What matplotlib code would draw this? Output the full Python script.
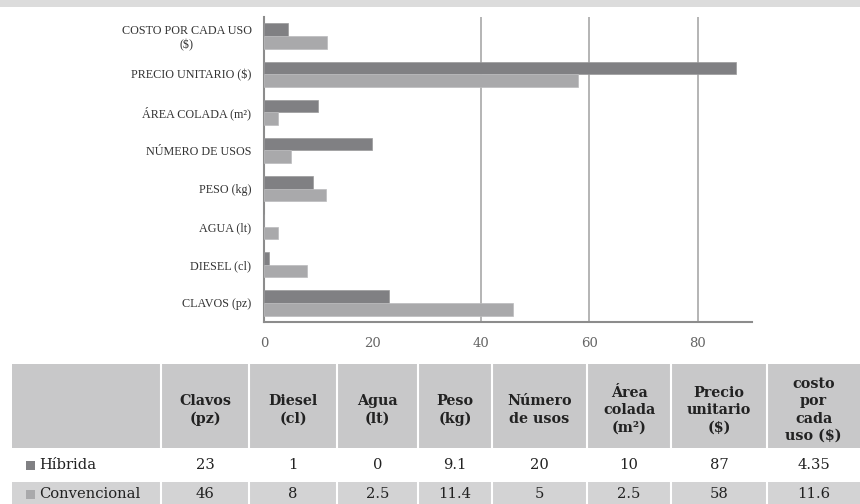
import matplotlib
matplotlib.use("Agg")
import matplotlib.pyplot as plt
from matplotlib.patches import Rectangle

# data
categorias = ["CLAVOS (pz)", "DIESEL (cl)", "AGUA (lt)", "PESO (kg)",
              "NÚMERO DE USOS", "ÁREA COLADA (m²)", "PRECIO UNITARIO ($)",
              "COSTO POR CADA USO\n($)"]
hibrida = [23, 1, 0, 9.1, 20, 10, 87, 4.35]
convencional = [46, 8, 2.5, 11.4, 5, 2.5, 58, 11.6]

encabezados = ["Clavos\n(pz)", "Diesel\n(cl)", "Agua\n(lt)", "Peso\n(kg)",
               "Número\nde usos", "Área\ncolada\n(m²)", "Precio\nunitario\n($)",
               "costo\npor\ncada\nuso ($)"]
fila_hib = ["23", "1", "0", "9.1", "20", "10", "87", "4.35"]
fila_conv = ["46", "8", "2.5", "11.4", "5", "2.5", "58", "11.6"]

c_hib = "#808083"
c_conv = "#a9a9ab"

W, H = 860, 504
fig = plt.figure(figsize=(W / 100, H / 100), dpi=100)

# top grey band
band = fig.add_axes([0, 1 - 7 / H, 1, 7 / H])
band.set_facecolor("#dcdcdc")
band.set_xticks([]); band.set_yticks([])
for s in band.spines.values():
    s.set_visible(False)

# bar chart
ax = fig.add_axes([264 / W, 1 - 322 / H, (752 - 264) / W, (322 - 17) / H])
y = list(range(len(categorias)))
h = 0.33
ax.barh([v + h / 2 for v in y], hibrida, height=h, color=c_hib,
        edgecolor="#9a9a9c", linewidth=0.5, zorder=3)
ax.barh([v - h / 2 for v in y], convencional, height=h, color=c_conv,
        edgecolor="#bcbcbe", linewidth=0.5, zorder=3)
for gx in [40, 60, 80]:
    ax.axvline(gx, color="#a0a0a0", linewidth=1.1, zorder=1)
ax.set_xlim(0, 90)
ax.set_ylim(-0.5, len(categorias) - 0.5)
ax.set_xticks([0, 20, 40, 60, 80])
ax.set_xticklabels(["0", "20", "40", "60", "80"], family="DejaVu Serif",
                   fontsize=9.5, color="#666666")
ax.set_yticks(y)
ax.set_yticklabels(categorias, family="Liberation Serif", fontsize=8.7,
                   color="#333333", multialignment="center")
ax.tick_params(axis="x", length=0, pad=11)
ax.tick_params(axis="y", length=0, pad=9)
for s in ["top", "right"]:
    ax.spines[s].set_visible(False)
for s in ["left", "bottom"]:
    ax.spines[s].set_color("#8c8c8c")
    ax.spines[s].set_linewidth(1.5)

# data table below
tb = fig.add_axes([0, 0, 1, 1])
tb.set_xlim(0, W)
tb.set_ylim(H, 0)
tb.axis("off")
bordes = [12, 161, 249, 337, 418, 492, 587, 671, 767, 860]
gris_enc = "#c8c8c9"
gris_fila = "#d3d3d4"
tb.add_patch(Rectangle((bordes[0], 364), W - bordes[0], 84, color=gris_enc, lw=0))
tb.add_patch(Rectangle((bordes[0], 482), W - bordes[0], 30, color=gris_fila, lw=0))
for bx in bordes[1:-1]:
    tb.plot([bx, bx], [364, 448], color="white", lw=1.5)
    tb.plot([bx, bx], [482, 504], color="white", lw=1.5)

for i, enc in enumerate(encabezados):
    cx = (bordes[i + 1] + bordes[i + 2]) / 2
    tb.text(cx, 410, enc, ha="center", va="center", family="DejaVu Serif",
            fontweight="bold", fontsize=10.3, color="#222222", linespacing=1.3)
    tb.text(cx, 465, fila_hib[i], ha="center", va="center",
            family="DejaVu Serif", fontsize=10.6, color="#222222")
    tb.text(cx, 494, fila_conv[i], ha="center", va="center",
            family="DejaVu Serif", fontsize=10.6, color="#222222")

tb.add_patch(Rectangle((26, 461), 9, 9, color=c_hib, lw=0))
tb.text(39, 465, "Híbrida", ha="left", va="center", family="DejaVu Serif",
        fontsize=10.6, color="#222222")
tb.add_patch(Rectangle((26, 490), 9, 9, color=c_conv, lw=0))
tb.text(39, 494, "Convencional", ha="left", va="center", family="DejaVu Serif",
        fontsize=10.6, color="#222222")

fig.savefig("out.png", dpi=100, facecolor="white")
